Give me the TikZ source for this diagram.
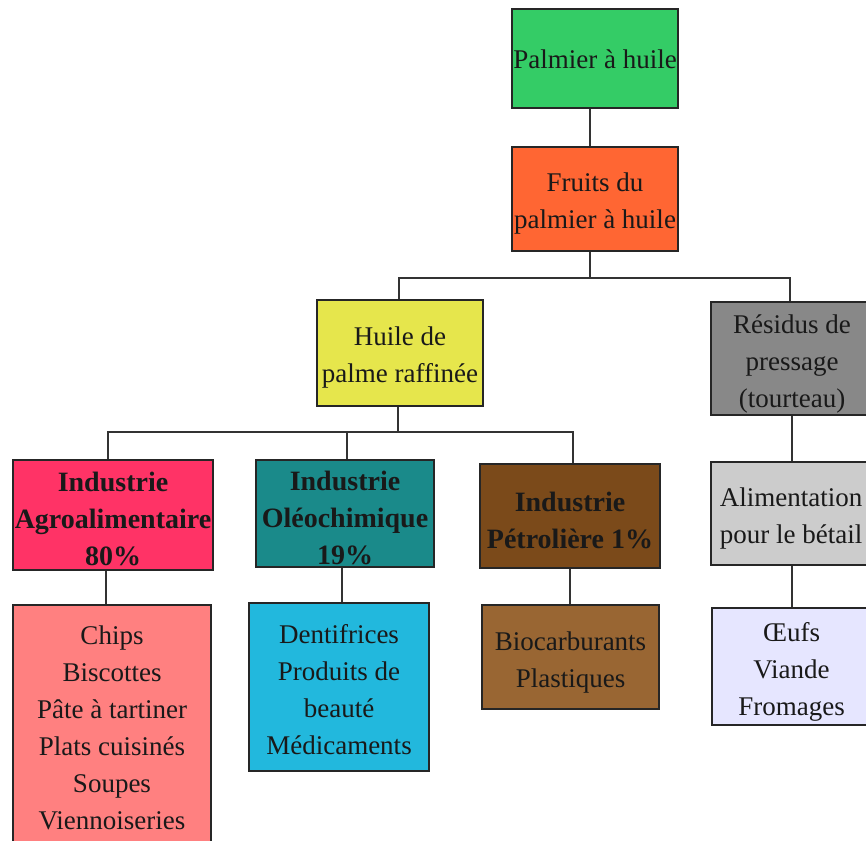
\documentclass[tikz,border=0pt]{standalone}
\usepackage{fontspec}
\setmainfont{Liberation Serif}
\definecolor{cgreen}{RGB}{52,204,102}
\definecolor{corange}{RGB}{255,102,51}
\definecolor{cyellow}{RGB}{230,230,76}
\definecolor{cgrey}{RGB}{136,136,136}
\definecolor{cpink}{RGB}{255,51,102}
\definecolor{cteal}{RGB}{26,138,138}
\definecolor{cbrown}{RGB}{123,74,26}
\definecolor{clgrey}{RGB}{204,204,204}
\definecolor{csalmon}{RGB}{255,128,128}
\definecolor{ccyan}{RGB}{34,184,221}
\definecolor{clbrown}{RGB}{153,102,51}
\definecolor{clav}{RGB}{230,230,255}
\tikzset{
  box/.style={draw=black!85, line width=1.3pt, rectangle, inner sep=0pt},
  txt/.style={inner sep=0pt, align=center, font=\fontsize{27}{37}\selectfont, text=black!90},
  btxt/.style={txt, font=\fontsize{28}{37}\selectfont\bfseries},
  conn/.style={draw=black!80, line width=1.3pt},
}
\begin{document}
\begin{tikzpicture}[x=1pt,y=-1pt]
\useasboundingbox (0,0) rectangle (866,840);
\clip (0,0) rectangle (866,840);
% boxes
\node[box, fill=cgreen, minimum width=166, minimum height=99] (p1) at (595,58.5) {};
\node[box, fill=corange, minimum width=166, minimum height=104] (p2) at (595,199) {};
\node[box, fill=cyellow, minimum width=166, minimum height=106] (huile) at (400,353) {};
\node[box, fill=cgrey, minimum width=162, minimum height=113] (res) at (792,358.5) {};
\node[box, fill=cpink, minimum width=200, minimum height=110] (agro) at (113,515) {};
\node[box, fill=cteal, minimum width=178, minimum height=107] (oleo) at (345,513.5) {};
\node[box, fill=cbrown, minimum width=180, minimum height=104] (petro) at (570,516) {};
\node[box, fill=clgrey, minimum width=160, minimum height=103] (alim) at (791,513.5) {};
\node[box, fill=csalmon, minimum width=198, minimum height=240] (chips) at (112,725) {};
\node[box, fill=ccyan, minimum width=180, minimum height=168] (dent) at (339,687) {};
\node[box, fill=clbrown, minimum width=177, minimum height=104] (bio) at (570.5,657) {};
\node[box, fill=clav, minimum width=159, minimum height=117] (oeufs) at (791.5,666.5) {};
% texts
\node[txt] (p1t) at ([yshift=-1pt]p1.center) {Palmier à huile};
\node[txt] (p2t) at ([yshift=-5pt]p2.center) {Fruits du\\palmier à huile};
\node[txt] (huilet) at ([yshift=-5pt]huile.center) {Huile de\\palme raffinée};
\node[txt] (rest) at ([yshift=-5pt]res.center) {Résidus de\\pressage\\(tourteau)};
\node[btxt] (agrot) at ([yshift=-4pt]agro.center) {Industrie\\Agroalimentaire\\80\%};
\node[btxt] (oleot) at ([yshift=-4pt]oleo.center) {Industrie\\Oléochimique\\19\%};
\node[btxt] (petrot) at ([yshift=-4pt]petro.center) {Industrie\\Pétrolière 1\%};
\node[txt] (alimt) at ([yshift=-5pt]alim.center) {Alimentation\\pour le bétail};
\node[txt] (chipst) at ([yshift=-3pt]chips.center) {Chips\\Biscottes\\Pâte à tartiner\\Plats cuisinés\\Soupes\\Viennoiseries};
\node[txt] (dentt) at ([yshift=-3pt]dent.center) {Dentifrices\\Produits de\\beauté\\Médicaments};
\node[txt] (biot) at ([yshift=-5pt]bio.center) {Biocarburants\\Plastiques};
\node[txt] (oeufst) at ([yshift=-5pt]oeufs.center) {Œufs\\Viande\\Fromages};
% junctions
\coordinate (a1) at (590,0);
\coordinate (j1) at (590,278);
\coordinate (jl) at (399,278);
\coordinate (jr) at (790,278);
\coordinate (j2) at (398,432);
\coordinate (ja) at (108,432);
\coordinate (jo) at (347,432);
\coordinate (jp) at (573,432);
\coordinate (xr) at (792,0);
\coordinate (xa) at (106,0);
\coordinate (xo) at (342,0);
\coordinate (xp) at (570,0);
% connectors
\draw[conn] (p1.south -| a1) -- (p2.north -| a1);
\draw[conn] (p2.south -| j1) -- (j1);
\draw[conn] (huile.north -| jl) -- (jl) -- (jr) -- (res.north -| jr);
\draw[conn] (huile.south -| j2) -- (j2);
\draw[conn] (agro.north -| ja) -- (ja) -- (jp) -- (petro.north -| jp);
\draw[conn] (jo) -- (oleo.north -| jo);
\draw[conn] (res.south -| xr) -- (alim.north -| xr);
\draw[conn] (agro.south -| xa) -- (chips.north -| xa);
\draw[conn] (oleo.south -| xo) -- (dent.north -| xo);
\draw[conn] (petro.south -| xp) -- (bio.north -| xp);
\draw[conn] (alim.south -| xr) -- (oeufs.north -| xr);
\end{tikzpicture}
\end{document}
